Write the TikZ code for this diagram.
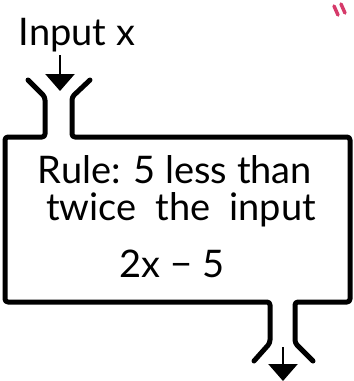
\documentclass[tikz,border=0pt]{standalone}
\usepackage{fontspec}
\setmainfont{Lato}
\usetikzlibrary{arrows.meta}
\definecolor{quotepink}{HTML}{D63A6A}
\tikzset{
  outline/.style={line width=5pt, line cap=round, line join=round, rounded corners=3pt},
  flowarrow/.style={line width=2.6pt, -{Triangle[width=29pt,length=17pt]}},
  hand/.style={inner sep=0pt, anchor=base, font=\fontsize{38}{38}\selectfont},
}
\begin{document}
\begin{tikzpicture}[x=1pt,y=-1pt]
\useasboundingbox (0,0) rectangle (354,381);
% machine outline
\draw[outline] (90,80) -- (72,97) -- (72,137) -- (350,137) -- (350,302) -- (295,302) -- (295,343) -- (313,361);
\draw[outline] (28,80) -- (45,97) -- (45,137) -- (5,137) -- (5,302) -- (270,302) -- (270,343) -- (254,361);
% labels
\node[hand] (input) at (77,45) {Input x};
\node[hand] (rule1) at (175,183) {Rule: 5 less than};
\node[hand] (rule2) at (181,220) {twice\hspace{0.5em}the\hspace{0.5em}input};
\node[hand] (rule3) at (172,277) {2x − 5};
% arrows
\coordinate (inTop) at (60,55);
\coordinate (inTip) at (60,91);
\coordinate (outTop) at (283,347);
\coordinate (outTip) at (283,381);
\draw[flowarrow] (inTop) -- (inTip);
\draw[flowarrow] (outTop) -- (outTip);
% quote marks
\draw[quotepink, line width=3.5pt, line cap=round] (334,6) -- (338,15) (341,4) -- (345,13);
\end{tikzpicture}
\end{document}
